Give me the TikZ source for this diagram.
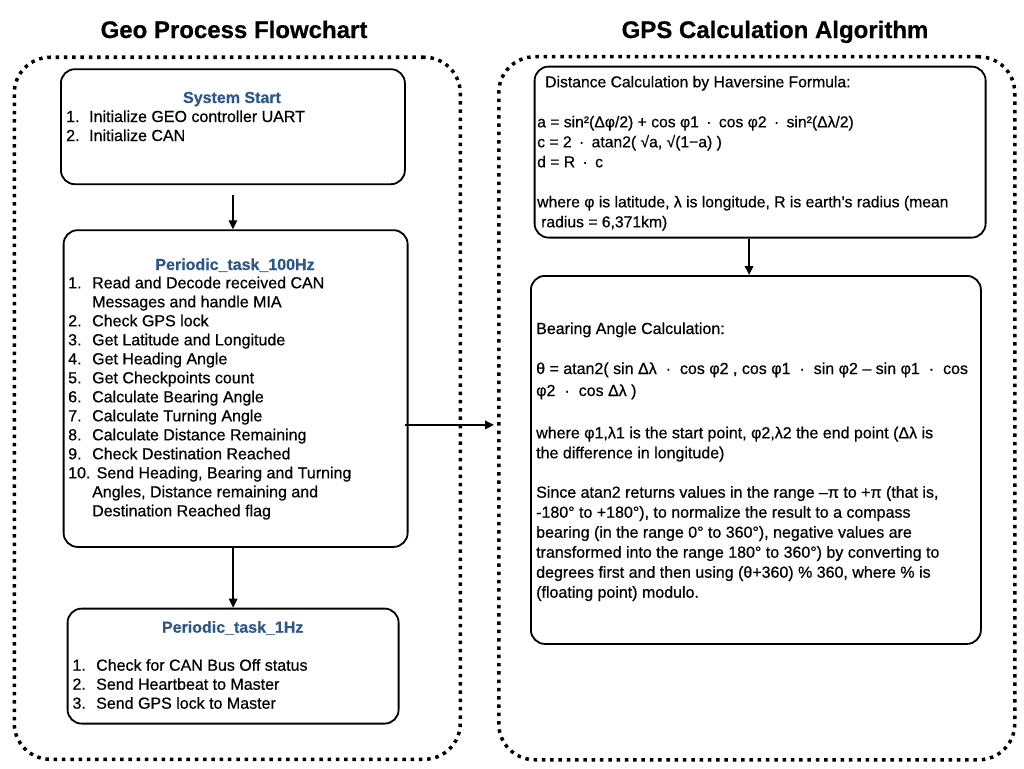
\documentclass[tikz,border=0pt]{standalone}
\usepackage{fontspec}
\setmainfont{Liberation Sans}[RawFeature={embolden=0.6}]
\usetikzlibrary{arrows.meta}
\definecolor{titleblue}{RGB}{44,86,140}
\newcommand\cdt{\hspace{0.47em}·\hspace{0.47em}}
\newcommand\cdtw{\hspace{0.56em}·\hspace{0.56em}}
\begin{document}
\begin{tikzpicture}[x=1pt,y=-1pt,
  container/.style={draw, line width=3.5pt, dash pattern=on 3.5pt off 4.8pt,
    rounded corners=36pt, inner sep=0pt, anchor=north west},
  box/.style={draw, line width=1.8pt, rounded corners=14pt, inner sep=0pt, anchor=north west},
  heading/.style={font=\fontsize{24}{28}\selectfont\bfseries, anchor=base, inner sep=0pt},
  boxtitle/.style={font=\fontsize{16}{19}\selectfont\bfseries, text=titleblue, anchor=base, inner sep=0pt},
  body/.style={font=\fontsize{16}{19}\selectfont, anchor=base west, inner sep=0pt},
  flow/.style={line width=1.7pt, -{Triangle[length=9pt,width=8.5pt]}}
]
\useasboundingbox (0,0) rectangle (1024,768);

% headings
\node[heading] (h1) at (234,38) {Geo Process Flowchart};
\node[heading] (h2) at (775,38) {GPS Calculation Algorithm};

% containers
\node[container, minimum width=446pt, minimum height=702pt] (lc) at (12.5,55.5) {};
\node[container, minimum width=516pt, minimum height=703pt] (rc) at (497,55) {};

% box 1
\node[box, minimum width=344pt, minimum height=115pt] (b1) at (60,68.3) {};
\node[boxtitle] (b1t) at (232,103) {System Start};
\node[body] (b1x) at (66,122) {\parbox[t]{330pt}{\baselineskip=19pt
\makebox[23pt][l]{1.}Initialize GEO controller UART\\
\makebox[23pt][l]{2.}Initialize CAN}};

% box 2
\node[box, minimum width=344pt, minimum height=316.7pt] (b2) at (62.7,229.3) {};
\node[boxtitle] (b2t) at (235,270) {Periodic\_task\_100Hz};
\node[body] (b2x) at (68,288.3) {\parbox[t]{330pt}{\baselineskip=19pt
\makebox[24pt][l]{1.}Read and Decode received CAN\\
\hspace*{24pt}Messages and handle MIA\\
\makebox[24pt][l]{2.}Check GPS lock\\
\makebox[24pt][l]{3.}Get Latitude and Longitude\\
\makebox[24pt][l]{4.}Get Heading Angle\\
\makebox[24pt][l]{5.}Get Checkpoints count\\
\makebox[24pt][l]{6.}Calculate Bearing Angle\\
\makebox[24pt][l]{7.}Calculate Turning Angle\\
\makebox[24pt][l]{8.}Calculate Distance Remaining\\
\makebox[24pt][l]{9.}Check Destination Reached\\
\makebox[28.5pt][l]{10.}Send Heading, Bearing and Turning\\
\hspace*{24pt}Angles, Distance remaining and\\
\hspace*{24pt}Destination Reached flag}};

% box 3
\node[box, minimum width=331pt, minimum height=115pt] (b3) at (66.7,607.7) {};
\node[boxtitle] (b3t) at (232.7,632.7) {Periodic\_task\_1Hz};
\node[body] (b3x) at (72.3,670.7) {\parbox[t]{320pt}{\baselineskip=19pt
\makebox[23.7pt][l]{1.}Check for CAN Bus Off status\\
\makebox[23.7pt][l]{2.}Send Heartbeat to Master\\
\makebox[23.7pt][l]{3.}Send GPS lock to Master}};

% Haversine box
\node[box, minimum width=451pt, minimum height=171pt] (hv) at (533.7,65.7) {};
\node[body, font=\fontsize{15.7}{19}\selectfont] (hvx) at (537,87.3) {\parbox[t]{445pt}{\baselineskip=20pt
\hspace*{8pt}Distance Calculation by Haversine Formula:\\[20pt]
a = sin²(Δφ/2) + cos φ1\cdt cos φ2\cdt sin²(Δλ/2)\\
c = 2\cdt atan2( √a, √(1−a) )\\
d = R\cdt c\\[20pt]
where φ is latitude, λ is longitude, R is earth’s radius (mean\\
\hspace*{4pt}radius = 6,371km)}};

% Bearing box
\node[box, minimum width=450pt, minimum height=368pt] (br) at (530,275) {};
\node[body] (brt) at (536,334) {Bearing Angle Calculation:};
\node[body] (brf) at (536,374) {\parbox[t]{445pt}{\baselineskip=22pt
θ = atan2( sin Δλ\cdtw cos φ2 , cos φ1\cdtw sin φ2 – sin φ1\cdtw cos\\
φ2\cdtw cos Δλ )}};
\node[body] (brw) at (536,438.3) {\parbox[t]{445pt}{\baselineskip=20pt
where φ1,λ1 is the start point, φ2,λ2 the end point (Δλ is\\
the difference in longitude)}};
\node[body] (brs) at (536,497.7) {\parbox[t]{445pt}{\baselineskip=20pt
Since atan2 returns values in the range –π to +π (that is,\\
-180° to +180°), to normalize the result to a compass\\
bearing (in the range 0° to 360°), negative values are\\
transformed into the range 180° to 360°) by converting to\\
degrees first and then using (θ+360) \% 360, where \% is\\
(floating point) modulo.}};

% connectors
\coordinate (ha) at ([xshift=-4pt,yshift=-36.35pt]b2.east);
\coordinate (hb) at ([xshift=-3pt]rc.west |- ha);
\draw[flow, shorten <=10pt] (b1.south) -- (b1.south |- b2.north);
\draw[flow] (b3.north |- b2.south) -- (b3.north);
\draw[flow] ([xshift=-11pt]hv.south) -- ([xshift=-11pt]hv.south |- br.north);
\draw[flow, line width=2pt] (ha) -- (hb);
\end{tikzpicture}
\end{document}
